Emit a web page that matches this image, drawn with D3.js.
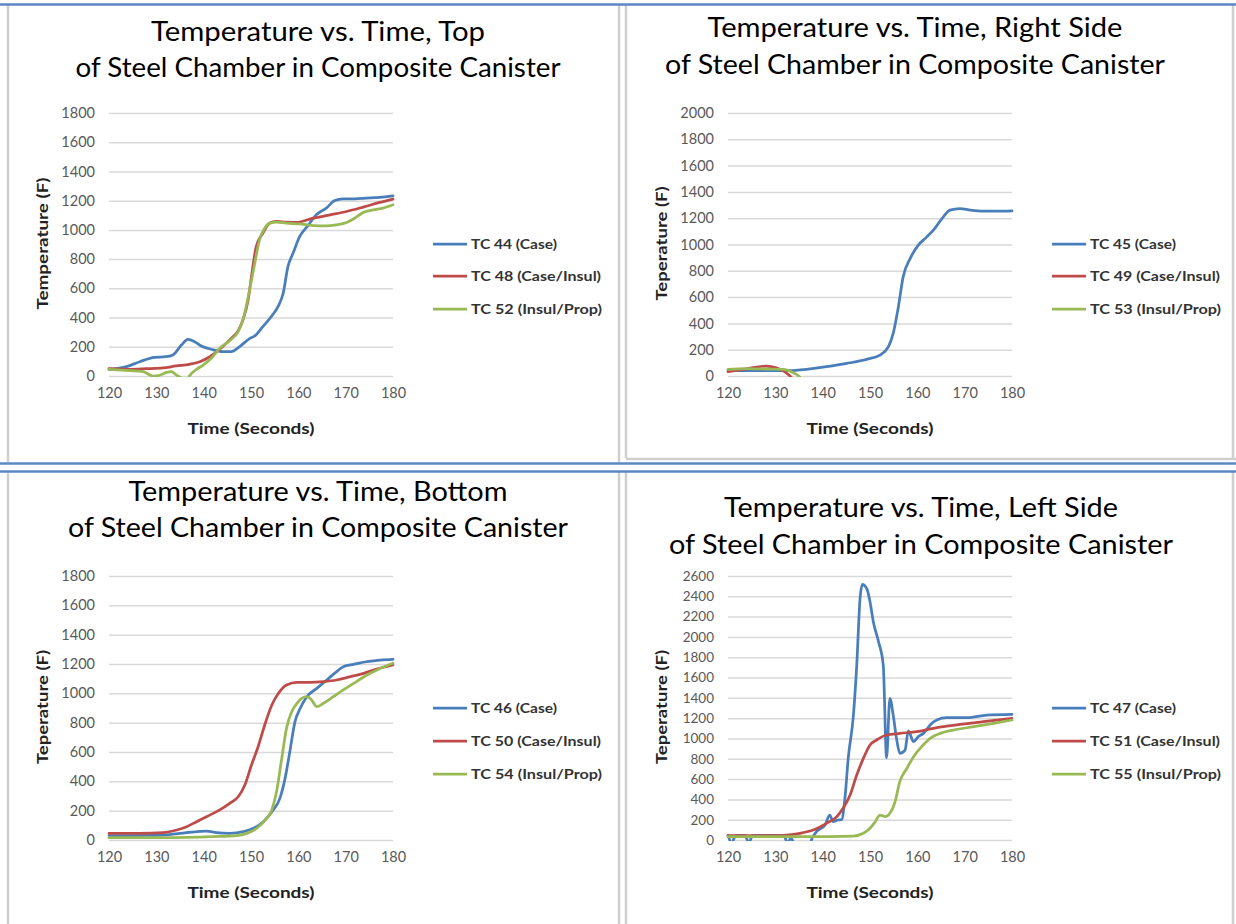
<!DOCTYPE html>
<html><head><meta charset="utf-8">
<script src="https://cdn.jsdelivr.net/npm/d3@7"></script>
<style>body{margin:0;background:#fff}svg{display:block}</style>
</head><body><svg id="c" width="1236" height="924"></svg>
<script>
// ---------- data ----------
const xTicks = [120, 130, 140, 150, 160, 170, 180];
const yTicks1800 = [0, 200, 400, 600, 800, 1000, 1200, 1400, 1600, 1800];
const yTicks2000 = [0, 200, 400, 600, 800, 1000, 1200, 1400, 1600, 1800, 2000];
const yTicks2600 = [0, 200, 400, 600, 800, 1000, 1200, 1400, 1600, 1800, 2000, 2200, 2400, 2600];

const seriesColors = ["#4A7EBB", "#BE4B48", "#98B954"];

const titleTop = ["Temperature vs. Time, Top", "of Steel Chamber in Composite Canister"];
const titleRight = ["Temperature vs. Time, Right Side", "of Steel Chamber in Composite Canister"];
const titleBottom = ["Temperature vs. Time, Bottom", "of Steel Chamber in Composite Canister"];
const titleLeft = ["Temperature vs. Time, Left Side", "of Steel Chamber in Composite Canister"];

const legendTop = ["TC 44 (Case)", "TC 48 (Case/Insul)", "TC 52 (Insul/Prop)"];
const legendRight = ["TC 45 (Case)", "TC 49 (Case/Insul)", "TC 53 (Insul/Prop)"];
const legendBottom = ["TC 46 (Case)", "TC 50 (Case/Insul)", "TC 54 (Insul/Prop)"];
const legendLeft = ["TC 47 (Case)", "TC 51 (Case/Insul)", "TC 55 (Insul/Prop)"];

// [time (s), temperature (F)]
const tc44 = [[120,45],[123.7,64],[126.5,98],[129.6,128],[132,132],[133.5,144],[135.3,212],[136.7,251],[138.1,235],[139.5,205],[141.6,183],[144,167],[145.8,167],[147.6,201],[149.7,256],[150.8,274],[152.5,338],[154.3,407],[155.7,475],[156.8,566],[157.8,749],[158.9,841],[160.3,955],[162,1028],[163.8,1103],[165.9,1149],[167.7,1201],[169.4,1213],[171.9,1213],[174.4,1217],[177.2,1222],[180,1233]];
const tc48 = [[120,50],[124.4,46],[127.9,50],[131.4,55],[134.2,69],[137,80],[139.2,98],[141.3,132],[143.4,183],[145.5,247],[147.3,311],[148.3,384],[149.4,521],[150.1,681],[151.1,886],[152.5,977],[153.9,1046],[155.4,1058],[157.5,1053],[159.6,1051],[163.1,1080],[166.7,1103],[170.2,1126],[173.7,1156],[177.2,1188],[180,1211]];
const tc52 = [[120,46],[124.4,37],[127.2,30],[129.3,0],[130.7,5],[132,23],[133.2,30],[134.2,7],[135.6,-20],[136.4,-40],[137,0],[138.5,46],[139.9,75],[141.6,121],[143.4,190],[145.5,242],[147.3,304],[148.3,384],[149.7,589],[150.8,772],[151.8,932],[152.9,1012],[154,1046],[155.4,1053],[157.5,1046],[160.3,1041],[163.1,1030],[165.9,1028],[168,1035],[170.2,1051],[171.9,1080],[173.7,1119],[175.8,1137],[177.9,1149],[180,1172]];

const tc45 = [[120,40],[126,40],[132.4,41],[136.6,51],[140.8,71],[145.1,96],[149.3,127],[152.1,159],[153.9,223],[154.9,324],[156,527],[157,754],[158.5,894],[160.2,995],[162,1058],[163.4,1109],[165.2,1197],[166.9,1261],[169,1273],[171.2,1261],[174,1253],[176.8,1253],[180,1256]];
const tc49 = [[120,33],[122.5,46],[125.3,63],[128.1,76],[130.2,63],[131.6,41],[133.1,0],[134,-40]];
const tc53 = [[120,51],[123.9,56],[128.1,53],[131.6,51],[133.8,25],[135.2,-10],[135.6,-40]];

const tc46 = [[120,30],[131.4,34],[136.4,50],[140.6,61],[142.7,50],[145.5,45],[148.4,57],[150.5,80],[152.6,125],[154.7,205],[156.1,284],[157.2,420],[158.2,602],[159.3,807],[160.4,898],[161.8,977],[163.9,1034],[166,1091],[168.1,1148],[169.5,1182],[171.7,1198],[174.5,1216],[177.3,1227],[180,1232]];
const tc50 = [[120,45],[126.5,45],[131.4,50],[134.3,68],[136.4,91],[138.5,125],[140.6,159],[143.4,205],[145.5,250],[147.3,295],[148.7,375],[150.1,511],[151.5,636],[152.9,784],[154.4,920],[155.8,1000],[157.5,1057],[159.7,1075],[162.5,1075],[165.3,1080],[168.1,1091],[171,1114],[173.8,1136],[176.6,1166],[180,1193]];
const tc54 = [[120,16],[131.4,16],[142,23],[147,30],[149.1,45],[151.2,80],[153,136],[154.4,205],[155.4,330],[156.5,557],[157.5,761],[158.6,875],[159.7,932],[160.7,966],[161.8,977],[162.8,955],[163.9,909],[165.3,932],[167.4,977],[169.5,1023],[171.7,1068],[174.5,1125],[177.3,1170],[180,1205]];

const tc47 = [[120,45],[120.8,-30],[121.6,45],[123.6,45],[124.4,-30],[125.2,45],[131.8,45],[132.6,-30],[133.3,20],[134,-30],[137.3,-30],[137.8,20],[138.7,82],[140.5,148],[141.5,246],[142.2,180],[143.3,197],[144,200],[144.7,410],[145.4,804],[146.5,1231],[147.2,1723],[147.9,2380],[148.4,2518],[149.3,2479],[150,2347],[150.7,2150],[151.8,1953],[152.8,1723],[153.5,811],[154.2,1395],[154.9,1231],[155.6,1001],[156.3,854],[157.4,886],[158.1,1075],[159.2,969],[160.2,1018],[161.3,1050],[162.7,1133],[164.1,1182],[166.2,1205],[170.5,1205],[174.7,1231],[180,1238]];
const tc51 = [[120,43],[129.5,43],[132.4,49],[135.2,66],[138,98],[140.8,164],[143,230],[144.3,312],[145.8,443],[147.2,640],[148.6,804],[150,936],[151.4,985],[153.5,1034],[156.3,1050],[159.9,1067],[163.4,1100],[168.3,1133],[174,1165],[180,1198]];
const tc55 = [[120,33],[136.6,33],[146.5,39],[148.6,66],[150,115],[151.1,180],[152.1,246],[153.2,230],[154.2,263],[155.3,378],[156.3,575],[157.8,706],[159.2,821],[160.9,919],[162.7,1001],[164.8,1050],[167.6,1083],[171.9,1116],[176.1,1149],[180,1182]];

const xLabel = "Time (Seconds)";
const yLabelTop = "Temperature (F)";
const yLabelOther = "Teperature (F)";

// ---------- layout ----------
const panels = [
  {title: titleTop, tw: [334, 485], tx: 318, ty: [41, 77], x0: 109, x1: 393, yt: 113, yb: 376, ymax: 1800, ticks: yTicks1800, series: [tc44, tc48, tc52], legend: legendTop, lx: 433, ly: [244, 276, 309], ylab: yLabelTop, ylw: 132},
  {title: titleRight, tw: [415, 500], tx: 915, ty: [37, 74], x0: 728, x1: 1012, yt: 113, yb: 376, ymax: 2000, ticks: yTicks2000, series: [tc45, tc49, tc53], legend: legendRight, lx: 1052, ly: [244, 276, 309], ylab: yLabelOther, ylw: 114},
  {title: titleBottom, tw: [379, 500], tx: 318, ty: [501, 537], x0: 109, x1: 393, yt: 576, yb: 840, ymax: 1800, ticks: yTicks1800, series: [tc46, tc50, tc54], legend: legendBottom, lx: 433, ly: [708, 741, 774], ylab: yLabelOther, ylw: 114},
  {title: titleLeft, tw: [394, 504], tx: 921, ty: [517, 554], x0: 728, x1: 1012, yt: 576, yb: 840, ymax: 2600, ticks: yTicks2600, series: [tc47, tc51, tc55], legend: legendLeft, lx: 1052, ly: [708, 741, 774], ylab: yLabelOther, ylw: 114}
];
const legendWidths = [86, 130, 131];

const svg = d3.select("#c");
const FONT = "Lato,'Open Sans','DejaVu Sans',sans-serif";

// frame
const frame = svg.append("g");
const gray = "#cfcfcf", blue = "#5b87c5";
[[8,5,8,462],[8,472,8,924],[619,5,619,462],[626,5,626,458],[619,472,619,924],[626,472,626,924],[1233,5,1233,458],[1233,472,1233,924],[626,459,1236,459]]
  .forEach(l => frame.append("line").attr("x1",l[0]).attr("y1",l[1]).attr("x2",l[2]).attr("y2",l[3]).attr("stroke",gray).attr("stroke-width",2.5));
[[0,4.5,1236,4.5],[0,463.5,1236,463.5],[0,471.5,1236,471.5]]
  .forEach(l => frame.append("line").attr("x1",l[0]).attr("y1",l[1]).attr("x2",l[2]).attr("y2",l[3]).attr("stroke",blue).attr("stroke-width",2.5));

panels.forEach((p, i) => {
  const g = svg.append("g");
  const x = d3.scaleLinear().domain([120, 180]).range([p.x0, p.x1]);
  const y = d3.scaleLinear().domain([0, p.ymax]).range([p.yb, p.yt]);

  // title
  p.title.forEach((t, k) => {
    g.append("text").attr("x", p.tx).attr("y", p.ty[k]).attr("text-anchor", "middle")
      .attr("font-family", FONT).attr("font-size", 26).attr("fill", "#000")
      .attr("textLength", p.tw[k]).attr("lengthAdjust", "spacingAndGlyphs").text(t);
  });

  // gridlines
  g.append("g").selectAll("line").data(p.ticks).join("line")
    .attr("x1", p.x0).attr("x2", p.x1).attr("y1", d => y(d) + 0.5).attr("y2", d => y(d) + 0.5)
    .attr("stroke", "#d9d9d9").attr("stroke-width", 1.5);

  // axes
  const ya = g.append("g").attr("transform", `translate(${p.x0},0)`)
    .call(d3.axisLeft(y).tickValues(p.ticks).tickSize(0).tickPadding(14).tickFormat(d3.format("d")));
  ya.select(".domain").remove();
  ya.selectAll("text").attr("font-family", FONT).attr("font-size", p.ymax > 2000 ? 13.5 : 14.5).attr("fill", "#595959");

  const xa = g.append("g").attr("transform", `translate(0,${p.yb})`)
    .call(d3.axisBottom(x).tickValues(xTicks).tickSize(0).tickPadding(12).tickFormat(d3.format("d")));
  xa.select(".domain").remove();
  xa.selectAll("text").attr("font-family", FONT).attr("font-size", 14.5).attr("fill", "#595959");

  // axis titles
  g.append("text").attr("x", 251 + (p.x0 - 109)).attr("y", p.yb + 58).attr("text-anchor", "middle")
    .attr("font-family", FONT).attr("font-weight", "bold").attr("font-size", 15).attr("fill", "#222")
    .attr("textLength", 127).attr("lengthAdjust", "spacingAndGlyphs").text(xLabel);
  g.append("text").attr("transform", `translate(${p.x0 - 61},${(p.yt + p.yb) / 2 - 1}) rotate(-90)`)
    .attr("text-anchor", "middle").attr("font-family", FONT).attr("font-weight", "bold").attr("font-size", 14.5).attr("fill", "#222")
    .attr("textLength", p.ylw).attr("lengthAdjust", "spacingAndGlyphs").text(p.ylab);

  // clip
  const cid = "clip" + i;
  svg.append("clipPath").attr("id", cid).append("rect")
    .attr("x", p.x0 - 2).attr("y", p.yt - 10).attr("width", p.x1 - p.x0 + 4).attr("height", p.yb - p.yt + 11);

  const line = d3.line().x(d => x(d[0])).y(d => y(d[1])).curve(d3.curveMonotoneX);
  g.append("g").attr("clip-path", `url(#${cid})`).selectAll("path").data(p.series).join("path")
    .attr("d", line).attr("fill", "none").attr("stroke", (d, k) => seriesColors[k])
    .attr("stroke-width", 2.75).attr("stroke-linejoin", "round").attr("stroke-linecap", "round");

  // legend
  p.legend.forEach((name, k) => {
    g.append("line").attr("x1", p.lx).attr("x2", p.lx + 34).attr("y1", p.ly[k]).attr("y2", p.ly[k])
      .attr("stroke", seriesColors[k]).attr("stroke-width", 2.75);
    g.append("text").attr("x", p.lx + 38).attr("y", p.ly[k]).attr("dy", "0.35em")
      .attr("font-family", FONT).attr("font-weight", "bold").attr("font-size", 13).attr("fill", "#333")
      .attr("textLength", legendWidths[k]).attr("lengthAdjust", "spacingAndGlyphs").text(name);
  });
});
</script></body></html>
